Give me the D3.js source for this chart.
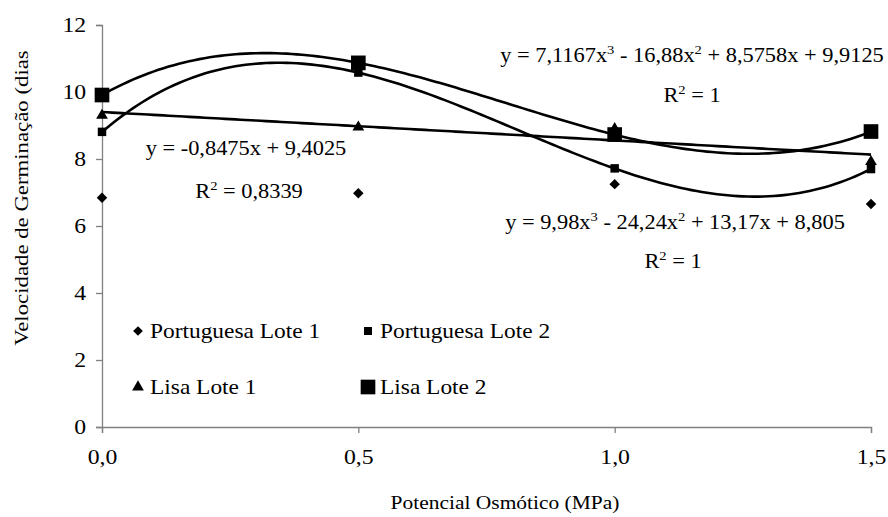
<!DOCTYPE html>
<html>
<head>
<meta charset="utf-8">
<script src="https://cdn.jsdelivr.net/npm/d3@7"></script>
<style>
  body { margin: 0; background: #fff; }
</style>
</head>
<body>
<svg id="chart"></svg>
<script>
  // data
  const xValues = [0, 0.5, 1.0, 1.5];
  const xTicks = [0, 0.5, 1.0, 1.5];
  const yTicks = [0, 2, 4, 6, 8, 10, 12];

  const portuguesaLote1 = [6.84, 6.98, 7.25, 6.66];
  const portuguesaLote2 = [8.81, 10.58, 7.72, 7.70];
  const lisaLote1 = [9.30, 8.95, 8.90, 7.92];
  const lisaLote2 = [9.91, 10.87, 8.73, 8.82];

  // trendline coefficients shown on the chart (highest power first)
  const trendPortuguesa2 = [9.98, -24.24, 13.17, 8.805];
  const trendLisa1 = [-0.8475, 9.4025];
  const trendLisa2 = [7.1167, -16.88, 8.5758, 9.9125];

  const serif = 'Liberation Serif';
  const stretch = 1.13; // the original text is a bit wide

  const svgWidth = 888;
  const svgHeight = 517;
  const margin = { left: 102, right: 17, top: 25, bottom: 90 };

  const svg = d3.select('#chart')
    .attr('width', svgWidth)
    .attr('height', svgHeight)
    .attr('font-family', serif);

  const x = d3.scaleLinear()
    .domain([0, 1.5])
    .range([margin.left, svgWidth - margin.right]);

  const y = d3.scaleLinear()
    .domain([0, 12])
    .range([svgHeight - margin.bottom, margin.top]);

  const fmt = d => d3.format('.1f')(d).replace('.', ',');

  // axes
  const xAxis = svg.append('g')
    .attr('transform', `translate(0,${y(0)})`)
    .call(d3.axisBottom(x).tickValues(xTicks).tickFormat(fmt).tickSizeOuter(0).tickSize(6).tickPadding(16));

  const yAxis = svg.append('g')
    .attr('transform', `translate(${x(0)},0)`)
    .call(d3.axisLeft(y).tickValues(yTicks).tickFormat(d3.format('d')).tickSizeOuter(0).tickSize(6).tickPadding(8));

  [xAxis, yAxis].forEach(a => {
    a.attr('font-family', serif).attr('font-size', 21);
    a.selectAll('path, line').attr('stroke', '#808080').attr('stroke-width', 1.3);
    a.selectAll('text').attr('fill', '#000').attr('transform', `scale(${stretch},1)`);
  });

  svg.append('text')
    .attr('transform', `translate(505,509) scale(${stretch},1)`)
    .attr('text-anchor', 'middle')
    .attr('font-size', 19)
    .text('Potencial Osmótico (MPa)');

  svg.append('text')
    .attr('transform', `translate(28,198) rotate(-90) scale(1.2,1)`)
    .attr('text-anchor', 'middle')
    .attr('font-size', 19)
    .text('Velocidade de Germinação (dias');

  // trend lines
  const poly = (c, v) => c.reduce((acc, k) => acc * v + k, 0);
  const samples = d3.range(0, 1.5001, 0.01);
  const line = d3.line().x(d => x(d[0])).y(d => y(d[1]));

  [trendPortuguesa2, trendLisa1, trendLisa2].forEach(c => {
    svg.append('path')
      .datum(samples.map(v => [v, poly(c, v)]))
      .attr('d', line)
      .attr('fill', 'none')
      .attr('stroke', '#000')
      .attr('stroke-width', 2.6);
  });

  // markers
  const symbols = [
    { data: portuguesaLote1, type: d3.symbolDiamond2, size: 70 },
    { data: portuguesaLote2, type: d3.symbolSquare, size: 72 },
    { data: lisaLote1, type: d3.symbolTriangle, size: 60 },
    { data: lisaLote2, type: d3.symbolSquare, size: 215 }
  ];

  symbols.forEach(s => {
    svg.append('g').selectAll('path')
      .data(s.data)
      .enter()
      .append('path')
      .attr('d', d3.symbol().type(s.type).size(s.size))
      .attr('transform', (d, i) => `translate(${x(xValues[i])},${y(d)})`)
      .attr('fill', '#000');
  });

  // equations
  const eqs = [
    { x: 692, y: 62, parts: ['y = 7,1167x', '3', ' - 16,88x', '2', ' + 8,5758x + 9,9125'] },
    { x: 692, y: 102, parts: ['R', '2', ' = 1'] },
    { x: 246, y: 155, parts: ['y = -0,8475x + 9,4025'] },
    { x: 249, y: 198, parts: ['R', '2', ' = 0,8339'] },
    { x: 675, y: 229, parts: ['y = 9,98x', '3', ' - 24,24x', '2', ' + 13,17x + 8,805'] },
    { x: 673, y: 268, parts: ['R', '2', ' = 1'] }
  ];

  eqs.forEach(e => {
    const t = svg.append('text')
      .attr('transform', `translate(${e.x},${e.y}) scale(1.12,1)`)
      .attr('text-anchor', 'middle')
      .attr('font-size', 20);
    e.parts.forEach((p, i) => {
      const sup = i % 2 === 1;
      t.append('tspan')
        .attr('dy', sup ? -8 : (i > 0 ? 8 : 0))
        .attr('font-size', sup ? 13 : 20)
        .text(p);
    });
  });

  // legend
  const legend = [
    { name: 'Portuguesa Lote 1', type: d3.symbolDiamond2, size: 60, cx: 138, cy: 331 },
    { name: 'Portuguesa Lote 2', type: d3.symbolSquare, size: 64, cx: 368, cy: 331 },
    { name: 'Lisa Lote 1', type: d3.symbolTriangle, size: 60, cx: 138, cy: 387 },
    { name: 'Lisa Lote 2', type: d3.symbolSquare, size: 215, cx: 368, cy: 387 }
  ];

  const lg = svg.append('g').selectAll('g')
    .data(legend)
    .enter()
    .append('g')
    .attr('transform', d => `translate(${d.cx},${d.cy})`);

  lg.append('path')
    .attr('d', d => d3.symbol().type(d.type).size(d.size)())
    .attr('fill', '#000');

  lg.append('text')
    .attr('transform', 'translate(12,7) scale(1.17,1)')
    .attr('font-size', 20)
    .text(d => d.name);
</script>
</body>
</html>
